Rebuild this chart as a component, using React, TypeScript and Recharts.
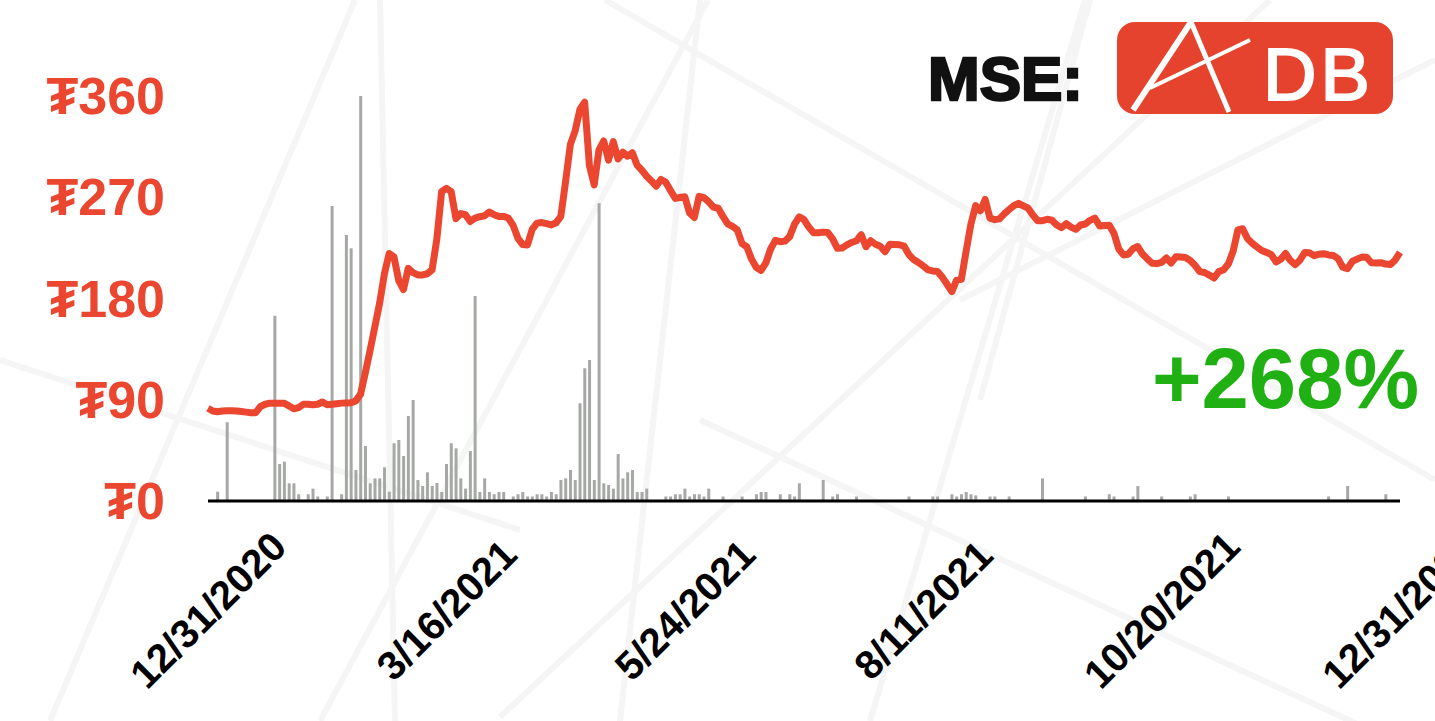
import React from 'react';
import { ComposedChart, Bar, Line, XAxis, YAxis } from 'recharts';

// trading-day index of each labelled date, and the labels
const xTickIndex = [0, 50, 100, 150, 200, 250];
const xLabels = ['12/31/2020', '3/16/2021', '5/24/2021', '8/11/2021', '10/20/2021', '12/31/2021'];
const priceTicks = [0, 90, 180, 270, 360];

// closing price (₮), one per trading day
const price = [
  82.4, 80, 79.4, 80, 80.3, 80.3, 80, 79.5, 79, 78.5,
  78.5, 84, 86, 87, 87, 87, 86.8, 84.5, 82, 83,
  86, 86, 85.5, 86, 88, 85.5, 86, 86.5, 87, 87.2,
  87.4, 89, 95, 114, 134, 155, 176, 202, 220, 217,
  196, 188, 206.8, 203, 201, 201, 202, 205.5, 233, 275,
  278, 275, 251, 255.5, 254.5, 248.5, 251.5, 252.7, 253.5, 256.8,
  254.5, 252.8, 253, 251.5, 245, 233.5, 228, 227.6, 241.5, 247,
  247.5, 246.5, 245.4, 247.3, 253, 284, 317, 329, 348, 354.5,
  298, 281, 312, 320, 303, 319.4, 304, 310, 306.5, 309.5,
  298.5, 294, 288.7, 284.5, 279.8, 285.8, 283.3, 276, 269, 269.8,
  270.5, 256, 252, 270.8, 269.7, 266, 261.2, 260.2, 253, 246.4,
  244.2, 241, 228.8, 226, 215, 207.5, 205, 211.6, 224, 231.7,
  230.5, 231, 235, 246, 252.5, 250.2, 243.5, 238.5, 238.5, 239,
  238.6, 233, 224.6, 224.8, 227.6, 229.8, 231.3, 236.7, 226, 231.3,
  228.2, 226.4, 221.6, 228.2, 228, 227.8, 226.5, 219, 214.6, 212,
  209, 205.5, 204.5, 204, 199, 192.7, 186.2, 196.3, 197, 222,
  246, 262.5, 258, 268, 251.5, 250.1, 250.8, 255.2, 259, 262.5,
  264.6, 262.4, 260.3, 254.2, 249.2, 249.2, 250.4, 249.6, 245.3, 243,
  246.5, 243.5, 241.5, 245.3, 246.2, 249.5, 251.5, 244.4, 244.8, 245.2,
  238, 224.2, 218.7, 219.3, 224.3, 226.2, 219.5, 215.2, 211.3, 211,
  212.2, 216, 211.6, 217.1, 216.8, 216.4, 213.8, 209.5, 204, 203.1,
  200.8, 198.2, 203.9, 205.5, 210.7, 222, 241, 242, 233.3, 229.2,
  225.8, 222.6, 221, 219, 212.5, 215, 220, 213.8, 210, 214,
  220.8, 220.7, 218.1, 219.4, 219.8, 218.7, 218.3, 215.5, 207.8, 206.5,
  212.9, 215, 216.8, 216.7, 211.8, 211.5, 211.8, 210.6, 210.2, 214.3, 221,
];

// traded volume, relative units
const volume = [
  0, 0, 8.3, 0, 70, 0, 0, 0, 0, 0,
  0, 0, 0, 0, 164.7, 32.9, 35, 15.7, 15.7, 6,
  0, 6, 11, 4, 0, 4, 262.2, 0, 6, 236.4,
  224.6, 27.6, 360, 48.9, 15.7, 20.1, 20.1, 29.9, 8.3, 51.3,
  54.2, 40, 75.6, 89.8, 18.7, 13.3, 25.5, 13.3, 16, 8,
  32.9, 51.3, 46.8, 20.1, 11, 44.4, 182.2, 8, 20.1, 8,
  6, 8, 8, 0, 4, 6, 8, 4, 4, 6,
  6, 4, 8, 6, 18.7, 20.1, 27.6, 18.7, 86.8, 118,
  125.3, 18.7, 264.6, 15.7, 14.2, 11, 41.8, 20.1, 25.5, 27.6,
  8, 8, 11, 0, 0, 0, 4, 4, 6, 6,
  11, 4, 6, 6, 4, 11, 0, 0, 4, 0,
  0, 0, 4, 0, 0, 6, 8, 8, 0, 0,
  6, 0, 6, 4, 15.7, 0, 0, 0, 0, 18.7,
  0, 4, 6, 0, 0, 0, 4, 0, 0, 0,
  0, 0, 0, 0, 0, 0, 0, 4, 0, 0,
  0, 0, 4, 4, 0, 0, 6, 4, 6, 8,
  6, 5, 0, 0, 4, 4, 0, 0, 4, 0,
  0, 0, 0, 0, 0, 20.1, 0, 0, 0, 0,
  0, 0, 0, 0, 4, 0, 0, 0, 0, 6,
  4, 0, 0, 0, 4, 13.3, 0, 0, 0, 0,
  4, 0, 0, 0, 0, 0, 4, 6, 0, 0,
  0, 0, 0, 0, 4, 0, 0, 0, 0, 0,
  0, 0, 0, 0, 0, 0, 0, 0, 0, 0,
  0, 0, 0, 0, 0, 4, 0, 0, 0, 13.3,
  0, 0, 0, 0, 0, 0, 0, 6, 0, 0, 0,
];

const data = price.map((p, i) => ({ i, price: p, volume: volume[i] }));

const FONT = "'Liberation Sans', Arial, Helvetica, 'DejaVu Sans', sans-serif";
const RED = '#ea4630';

// faint background network lines (decoration only)
const bgLines = [
  [355, 0, 50, 721],
  [380, 0, 395, 721],
  [708, 0, 320, 721],
  [700, 0, 620, 721],
  [605, 0, 1435, 480],
  [1270, 0, 500, 717],
  [1085, 0, 870, 721],
  [700, 420, 1435, 760],
  [1090, 0, 980, 400],
  [0, 360, 520, 530],
  [960, 300, 1435, 60],
];

function XTick(props: any) {
  const { x, y, payload } = props;
  const label = xLabels[xTickIndex.indexOf(payload.value)];
  return (
    <text
      transform={`translate(${x},${y + 109}) rotate(-45)`}
      textAnchor="middle"
      dominantBaseline="central"
      fontSize={40}
      fontWeight="bold"
      fontFamily={FONT}
      fill="#000"
    >
      {label}
    </text>
  );
}

function YTick(props: any) {
  const { x, y, payload } = props;
  return (
    <text x={x} y={y} textAnchor="end" dominantBaseline="central" fontSize={52} fontWeight="bold" fontFamily={FONT} fill={RED}>
      {'₮' + payload.value}
    </text>
  );
}

export default function App() {
  return (
    <div style={{ position: 'absolute', left: 0, top: 0, width: 1435, height: 721, overflow: 'hidden', background: '#fff' }}>
      <svg width={1435} height={721} style={{ position: 'absolute', left: 0, top: 0 }}>
        {bgLines.map((l, k) => (
          <line key={k} x1={l[0]} y1={l[1]} x2={l[2]} y2={l[3]} stroke="#f5f5f5" strokeWidth={6} />
        ))}
      </svg>
      <div style={{ position: 'absolute', left: 0, top: 0 }}>
        <ComposedChart width={1435} height={721} data={data} margin={{ top: 96, right: 35, bottom: 190, left: 0 }}>
          <XAxis
            dataKey="i"
            type="number"
            domain={[0, 250]}
            ticks={xTickIndex}
            interval={0}
            height={30}
            axisLine={{ stroke: '#000', strokeWidth: 3 }}
            tickLine={false}
            tickSize={0}
            tickMargin={0}
            tick={<XTick />}
          />
          <YAxis
            yAxisId="price"
            width={208}
            domain={[0, 360]}
            ticks={priceTicks}
            axisLine={false}
            tickLine={false}
            tickSize={0}
            tickMargin={43}
            tick={<YTick />}
          />
          <YAxis yAxisId="vol" orientation="right" hide domain={[0, 360]} />
          <Bar yAxisId="vol" dataKey="volume" fill="#a5a8a5" barSize={3} isAnimationActive={false} />
          <Line
            yAxisId="price"
            dataKey="price"
            type="linear"
            stroke={RED}
            strokeWidth={7}
            strokeLinejoin="round"
            dot={false}
            isAnimationActive={false}
          />
        </ComposedChart>
      </div>
      <svg width={1435} height={721} style={{ position: 'absolute', left: 0, top: 0, pointerEvents: 'none' }}>
        <text x={928} y={100} fontSize={62} fontWeight="bold" fontFamily={FONT} fill="#111" stroke="#111" strokeWidth={2.5}>
          MSE:
        </text>
        <rect x={1117} y={22} width={276} height={92} rx={18} fill="#e5432d" />
        <line x1={1133} y1={110} x2={1191} y2={22} stroke="#fff" strokeWidth={6} />
        <line x1={1191} y1={22} x2={1229} y2={112} stroke="#fff" strokeWidth={5} />
        <line x1={1150} y1={88} x2={1250} y2={40} stroke="#fff" strokeWidth={4} />
        <text x={1263} y={100} fontSize={74} fontFamily={FONT} fill="#fff" stroke="#fff" strokeWidth={2} letterSpacing={4}>
          DB
        </text>
        <text x={1419} y={408} textAnchor="end" fontSize={85} fontWeight="bold" fontFamily={FONT} fill="#20b013">
          +268%
        </text>
      </svg>
    </div>
  );
}
